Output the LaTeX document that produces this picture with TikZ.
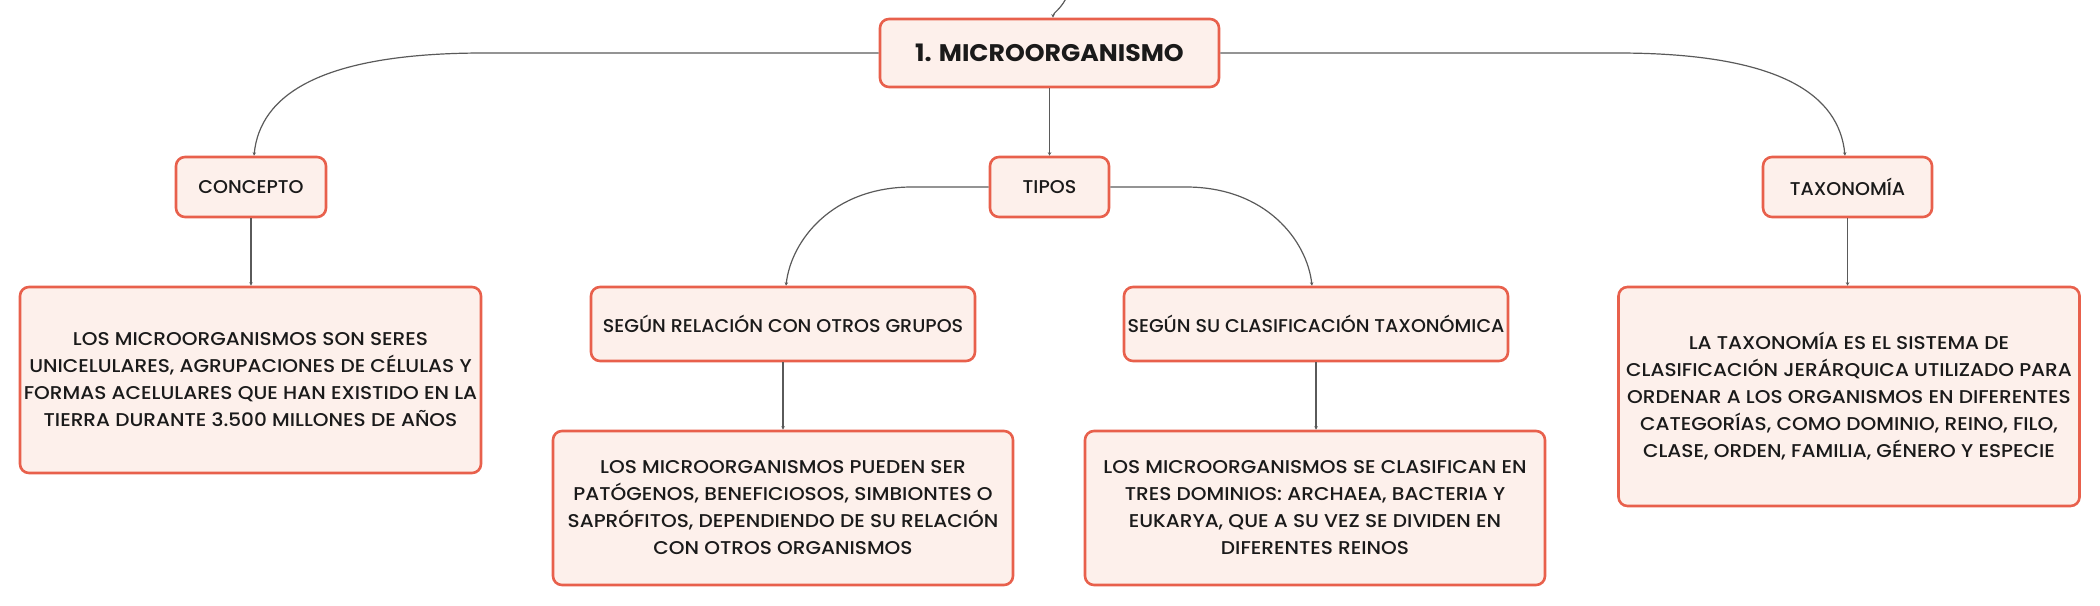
\documentclass[tikz,border=0pt]{standalone}
\usepackage{fontspec}
\setmainfont{Poppins}[UprightFont={* Medium},BoldFont={* Bold}]
\newfontfamily\bodyfont{Poppins}[UprightFont={* Medium},FakeStretch=1.085]
\newfontfamily\labelfont{Poppins}[UprightFont={* Medium},FakeStretch=1.03]
\newfontfamily\titlefont{Poppins}[UprightFont={* Bold},FakeStretch=1.05]
\usetikzlibrary{arrows.meta}
\definecolor{boxline}{HTML}{E8604C}
\definecolor{boxfill}{HTML}{FDF0EB}
\definecolor{connline}{HTML}{5A5A5A}
\definecolor{txt}{HTML}{1A1A1A}
\tikzset{
  box/.style={draw=boxline, fill=boxfill, line width=2.6pt, rounded corners=9pt,
    align=center, text=txt, inner sep=0pt, font=\bodyfont\fontsize{18.5}{27}\selectfont},
  labelbox/.style={box, font=\labelfont\fontsize{18.5}{27}\selectfont},
  titlebox/.style={box, font=\titlefont\fontsize{24}{28}\selectfont},
  conn/.style={draw=connline, line width=1.2pt, -{Stealth[length=3.5pt,width=3.5pt]}},
}
\begin{document}
\begin{tikzpicture}[x=1pt,y=-1pt]
\useasboundingbox (0,0) rectangle (2100,605);
\node[titlebox, minimum width=339pt, minimum height=68pt] (main) at (1049.5,53) {1. MICROORGANISMO};
\node[labelbox, minimum width=150pt, minimum height=60pt] (concepto) at (251,187) {CONCEPTO};
\node[labelbox, minimum width=119pt, minimum height=60pt] (tipos) at (1049.5,187) {TIPOS};
\node[labelbox, minimum width=169pt, minimum height=60pt] (taxo) at (1847.5,187) {TAXONOMÍA};
\node[box, minimum width=461pt, minimum height=186pt] (conceptotxt) at (250.5,380)
  {LOS MICROORGANISMOS SON SERES\\UNICELULARES, AGRUPACIONES DE CÉLULAS Y\\FORMAS ACELULARES QUE HAN EXISTIDO EN LA\\TIERRA DURANTE 3.500 MILLONES DE AÑOS};
\node[labelbox, minimum width=384pt, minimum height=74pt] (relacion) at (783,324) {SEGÚN RELACIÓN CON OTROS GRUPOS};
\node[labelbox, minimum width=384pt, minimum height=74pt] (clasif) at (1316,324) {SEGÚN SU CLASIFICACIÓN TAXONÓMICA};
\node[box, minimum width=460pt, minimum height=154pt] (relaciontxt) at (783,508)
  {LOS MICROORGANISMOS PUEDEN SER\\PATÓGENOS, BENEFICIOSOS, SIMBIONTES O\\SAPRÓFITOS, DEPENDIENDO DE SU RELACIÓN\\CON OTROS ORGANISMOS};
\node[box, minimum width=460pt, minimum height=154pt] (clasiftxt) at (1315,508)
  {LOS MICROORGANISMOS SE CLASIFICAN EN\\TRES DOMINIOS: ARCHAEA, BACTERIA Y\\EUKARYA, QUE A SU VEZ SE DIVIDEN EN\\DIFERENTES REINOS};
\node[box, minimum width=461pt, minimum height=219pt] (taxotxt) at (1849,396.5)
  {LA TAXONOMÍA ES EL SISTEMA DE\\CLASIFICACIÓN JERÁRQUICA UTILIZADO PARA\\ORDENAR A LOS ORGANISMOS EN DIFERENTES\\CATEGORÍAS, COMO DOMINIO, REINO, FILO,\\CLASE, ORDEN, FAMILIA, GÉNERO Y ESPECIE};
% coordinates for connector bends
\coordinate (up) at (1068,-6);
\coordinate (bl) at (484,53);
\coordinate (br) at (1617,53);
\coordinate (tl) at (912,187);
\coordinate (tr) at (1186,187);
% connectors
\draw[conn] (up) .. controls +(-6,15) and +(0,-5) .. ([xshift=3.5pt]main.north);
\draw[conn] (main.west) -- (bl) .. controls +(-165,0) and +(6,-60) .. ([xshift=3pt]concepto.north);
\draw[conn] (main.east) -- (br) .. controls +(165,0) and +(-6,-60) .. ([xshift=-2.5pt]taxo.north);
\draw[conn] (main.south) -- (tipos.north);
\draw[conn] (tipos.west) -- (tl) .. controls +(-80,0) and +(5,-45) .. ([xshift=3pt]relacion.north);
\draw[conn] (tipos.east) -- (tr) .. controls +(80,0) and +(-5,-45) .. ([xshift=-4pt]clasif.north);
\draw[conn] (concepto.south) -- (conceptotxt.north -| concepto.south);
\draw[conn] (relacion.south) -- (relaciontxt.north -| relacion.south);
\draw[conn] (clasif.south) -- (clasiftxt.north -| clasif.south);
\draw[conn] (taxo.south) -- (taxotxt.north -| taxo.south);
\end{tikzpicture}
\end{document}
